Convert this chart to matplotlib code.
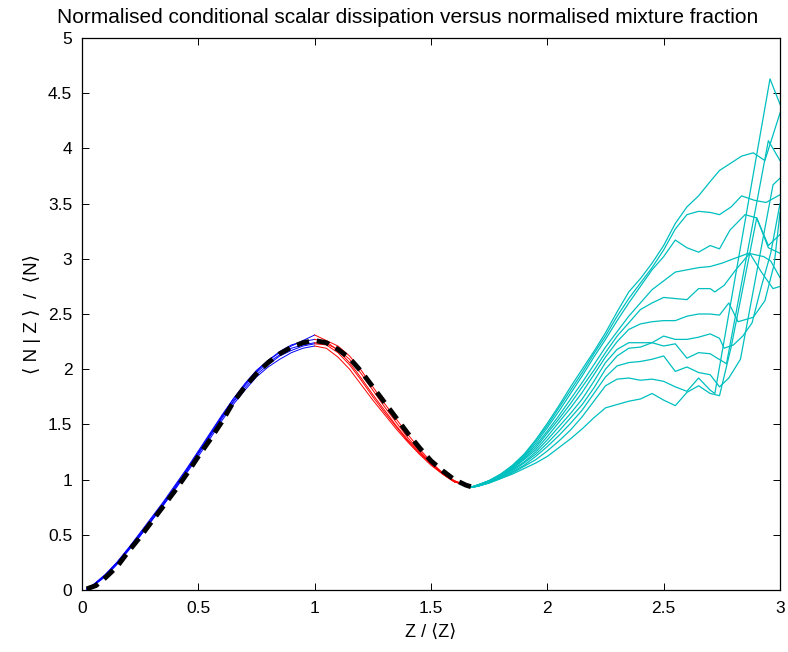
import matplotlib
matplotlib.use("Agg")
import matplotlib.pyplot as plt

plt.rcParams['font.family'] = ['Liberation Sans', 'DejaVu Sans']

# fitted (dashed) profile
fit_z = [0.02, 0.06, 0.10, 0.15, 0.20, 0.25, 0.30, 0.35, 0.40, 0.45, 0.50,
         0.55, 0.60, 0.65, 0.70, 0.75, 0.80, 0.85, 0.90, 0.95, 1.00, 1.05,
         1.10, 1.15, 1.20, 1.25, 1.30, 1.35, 1.40, 1.45, 1.50, 1.55, 1.60,
         1.65, 1.68]
fit_n = [0.01, 0.04, 0.11, 0.21, 0.35, 0.48, 0.62, 0.76, 0.90, 1.05, 1.21,
         1.36, 1.52, 1.70, 1.84, 1.96, 2.06, 2.14, 2.20, 2.24, 2.26, 2.24,
         2.18, 2.10, 1.98, 1.84, 1.70, 1.56, 1.42, 1.29, 1.17, 1.08, 1.00,
         0.95, 0.93]

# lean side (blue)
blue_z = [0.02, 0.05, 0.10, 0.15, 0.20, 0.25, 0.30, 0.35, 0.40, 0.45, 0.50,
          0.55, 0.60, 0.65, 0.70, 0.75, 0.80, 0.85, 0.90, 0.95, 1.00]
blue_n = [
    [0.01, 0.05, 0.14, 0.25, 0.38, 0.51, 0.65, 0.79, 0.94, 1.09, 1.25, 1.41, 1.57, 1.73, 1.87, 1.99, 2.08, 2.15, 2.21, 2.26, 2.31],
    [0.01, 0.05, 0.13, 0.24, 0.37, 0.50, 0.64, 0.78, 0.93, 1.08, 1.24, 1.40, 1.56, 1.71, 1.85, 1.97, 2.06, 2.13, 2.19, 2.22, 2.24],
    [0.01, 0.04, 0.13, 0.24, 0.36, 0.49, 0.63, 0.77, 0.92, 1.07, 1.23, 1.39, 1.55, 1.70, 1.83, 1.95, 2.04, 2.12, 2.17, 2.21, 2.23],
    [0.01, 0.05, 0.14, 0.25, 0.38, 0.52, 0.66, 0.80, 0.95, 1.10, 1.26, 1.42, 1.58, 1.73, 1.86, 1.98, 2.08, 2.16, 2.22, 2.25, 2.27],
    [0.01, 0.04, 0.12, 0.23, 0.36, 0.49, 0.63, 0.77, 0.91, 1.06, 1.21, 1.37, 1.53, 1.68, 1.81, 1.93, 2.02, 2.09, 2.15, 2.19, 2.21],
]

# around stoichiometric (red)
red_z = [1.00, 1.05, 1.10, 1.15, 1.20, 1.25, 1.30, 1.35, 1.40, 1.45, 1.50,
         1.55, 1.60, 1.65, 1.68]
red_n = [
    [2.31, 2.26, 2.21, 2.12, 1.99, 1.84, 1.69, 1.55, 1.41, 1.28, 1.16, 1.06, 0.99, 0.95, 0.93],
    [2.24, 2.23, 2.18, 2.09, 1.96, 1.81, 1.66, 1.52, 1.38, 1.26, 1.15, 1.06, 0.99, 0.95, 0.93],
    [2.23, 2.22, 2.15, 2.04, 1.90, 1.75, 1.61, 1.48, 1.35, 1.24, 1.14, 1.05, 0.98, 0.95, 0.93],
    [2.27, 2.25, 2.17, 2.06, 1.92, 1.77, 1.63, 1.49, 1.36, 1.25, 1.14, 1.05, 0.98, 0.95, 0.93],
    [2.21, 2.19, 2.11, 2.00, 1.86, 1.72, 1.59, 1.46, 1.34, 1.23, 1.13, 1.05, 0.98, 0.95, 0.93],
]

# rich side (cyan), shared grid then a ragged tail per curve
cyan_z = [1.67, 1.70, 1.75, 1.80, 1.85, 1.90, 1.95, 2.00, 2.05, 2.10, 2.15,
          2.20, 2.25, 2.30, 2.35, 2.40, 2.45, 2.50, 2.55, 2.60, 2.65, 2.70]
cyan_n = [
    [0.93, 0.95, 0.99, 1.05, 1.13, 1.23, 1.36, 1.51, 1.67, 1.84, 2.00, 2.16, 2.33, 2.52, 2.70, 2.82, 2.96, 3.12, 3.32, 3.47, 3.57, 3.70],
    [0.93, 0.95, 0.99, 1.05, 1.12, 1.22, 1.35, 1.49, 1.65, 1.81, 1.97, 2.14, 2.30, 2.48, 2.64, 2.78, 2.92, 3.08, 3.27, 3.40, 3.43, 3.42],
    [0.93, 0.95, 0.99, 1.04, 1.12, 1.21, 1.33, 1.47, 1.62, 1.78, 1.94, 2.11, 2.27, 2.44, 2.60, 2.75, 2.90, 3.02, 3.17, 3.10, 3.06, 3.12],
    [0.93, 0.95, 0.99, 1.04, 1.11, 1.20, 1.31, 1.44, 1.58, 1.73, 1.88, 2.04, 2.20, 2.34, 2.48, 2.60, 2.72, 2.80, 2.88, 2.90, 2.92, 2.93],
    [0.93, 0.95, 0.98, 1.04, 1.10, 1.19, 1.29, 1.42, 1.55, 1.69, 1.84, 1.99, 2.15, 2.30, 2.42, 2.54, 2.60, 2.65, 2.64, 2.63, 2.73, 2.73],
    [0.93, 0.94, 0.98, 1.03, 1.10, 1.18, 1.27, 1.39, 1.52, 1.65, 1.79, 1.95, 2.11, 2.25, 2.36, 2.41, 2.43, 2.44, 2.44, 2.48, 2.50, 2.50],
    [0.93, 0.94, 0.98, 1.03, 1.09, 1.16, 1.25, 1.36, 1.48, 1.60, 1.73, 1.89, 2.06, 2.18, 2.24, 2.24, 2.24, 2.30, 2.27, 2.27, 2.29, 2.32],
    [0.93, 0.94, 0.98, 1.02, 1.08, 1.15, 1.23, 1.33, 1.44, 1.56, 1.68, 1.83, 2.00, 2.12, 2.19, 2.20, 2.24, 2.21, 2.23, 2.10, 2.15, 2.14],
    [0.93, 0.94, 0.97, 1.02, 1.07, 1.13, 1.21, 1.30, 1.40, 1.51, 1.63, 1.78, 1.93, 2.03, 2.06, 2.07, 2.09, 2.12, 1.98, 2.02, 1.97, 1.95],
    [0.93, 0.94, 0.97, 1.01, 1.06, 1.12, 1.18, 1.26, 1.35, 1.45, 1.57, 1.71, 1.85, 1.91, 1.92, 1.90, 1.91, 1.89, 1.84, 1.80, 1.92, 1.81],
    [0.93, 0.94, 0.97, 1.01, 1.05, 1.10, 1.15, 1.21, 1.29, 1.37, 1.46, 1.56, 1.65, 1.68, 1.71, 1.73, 1.78, 1.72, 1.67, 1.79, 1.85, 1.78],
]
cyan_tail_z = [
    [2.74, 2.835, 2.885, 2.935, 3.00],
    [2.74, 2.79, 2.835, 2.89, 2.94, 3.00],
    [2.74, 2.785, 2.85, 2.90, 2.95, 3.00],
    [2.75, 2.80, 2.865, 2.93, 2.96, 3.00],
    [2.72, 2.76, 2.81, 2.87, 2.92, 2.97, 3.00],
    [2.74, 2.78, 2.82, 2.885, 2.935, 2.975, 3.00],
    [2.74, 2.76, 2.80, 2.84, 2.88, 2.92, 2.96, 3.00],
    [2.73, 2.77, 2.95, 3.00],
    [2.74, 2.78, 2.83, 2.97, 3.00],
    [2.72, 2.957, 3.00],
    [2.74, 2.79, 2.90, 2.95, 3.00],
]
cyan_tail_n = [
    [3.80, 3.93, 3.96, 3.89, 4.32],
    [3.40, 3.47, 3.57, 3.53, 3.51, 3.58],
    [3.09, 3.26, 3.40, 3.37, 3.12, 3.22],
    [2.96, 3.00, 3.05, 3.02, 2.98, 2.83],
    [2.70, 2.76, 2.90, 3.05, 2.88, 2.73, 2.75],
    [2.49, 2.60, 2.43, 2.47, 2.62, 2.95, 3.42],
    [2.28, 2.19, 2.22, 2.30, 2.42, 2.75, 3.05, 3.50],
    [2.10, 2.05, 4.07, 3.89],
    [1.84, 1.92, 2.09, 3.67, 3.73],
    [1.78, 4.63, 4.40],
    [1.76, 2.20, 3.37, 3.10, 3.05],
]

fig = plt.figure(figsize=(7.88, 6.52), dpi=100)
ax = fig.add_axes([82 / 788, 62 / 652, 698 / 788, 552 / 652])

for n in blue_n:
    ax.plot(blue_z, n, color='#0000ff', lw=0.7)
for n in red_n:
    ax.plot(red_z, n, color='#ff0000', lw=0.7)
for n, tz, tn in zip(cyan_n, cyan_tail_z, cyan_tail_n):
    ax.plot(cyan_z + tz, n + tn, color='#00bfbf', lw=0.9)

ax.plot(fit_z, fit_n, color='black', lw=3.5, dashes=(2.6, 1.6))

ax.set_xlim(0, 3)
ax.set_ylim(0, 5)
ax.set_xticks([0, 0.5, 1, 1.5, 2, 2.5, 3])
ax.set_xticklabels(['0', '0.5', '1', '1.5', '2', '2.5', '3'])
ax.set_yticks([0, 0.5, 1, 1.5, 2, 2.5, 3, 3.5, 4, 4.5, 5])
ax.set_yticklabels(['0', '0.5', '1', '1.5', '2', '2.5', '3', '3.5', '4', '4.5', '5'])
ax.tick_params(direction='in', length=5, width=0.7, top=True, right=True,
               labelsize=12.5)
ax.tick_params(axis='x', pad=8)
ax.tick_params(axis='y', pad=7)
for s in ax.spines.values():
    s.set_linewidth(0.9)

ax.set_title('Normalised conditional scalar dissipation versus normalised mixture fraction',
             fontsize=15, pad=11, x=0.466)
ax.set_xlabel('Z / \u27e8Z\u27e9', fontsize=13, labelpad=6)
ax.set_ylabel('\u27e8 N | Z \u27e9  /  \u27e8N\u27e9', fontsize=13.5, labelpad=5)

fig.savefig('out.png', dpi=100)
